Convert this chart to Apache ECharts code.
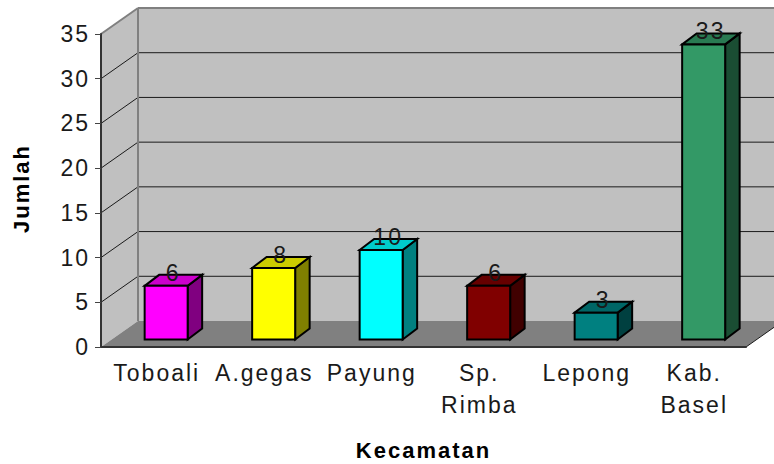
<!DOCTYPE html>
<html>
<head>
<meta charset="utf-8">
<style>
  html, body { margin: 0; padding: 0; background: #fff; }
  #chart { width: 774px; height: 464px; }
  #chart text { letter-spacing: 2px; }
</style>
<script src="https://cdn.jsdelivr.net/npm/echarts@6/dist/echarts.min.js"></script>
</head>
<body>
<div id="chart"></div>
<script>
const categories = ['Toboali', 'A.gegas', 'Payung', 'Sp.\nRimba', 'Lepong', 'Kab.\nBasel']
const jumlah = [6, 8, 10, 6, 3, 33]
const yTicks = [0, 5, 10, 15, 20, 25, 30, 35]
const frontColors = ['#ff00ff', '#ffff00', '#00ffff', '#800000', '#008080', '#339966']
const topColors = ['#cc00cc', '#cccc00', '#00cccc', '#660000', '#006666', '#297a52']
const sideColors = ['#800080', '#808000', '#008080', '#400000', '#004040', '#1a4d33']

// pixel offsets of the fake 3d projection
const wallDx = 37
const wallDy = -26
const barDx = 11.4
const barDy = -7.5
const depthDx = 14.5
const depthDy = -11
const barRatio = 0.4
const fontName = '"Liberation Sans", Arial, sans-serif'

const poly = (points, fill, stroke, lineWidth) => ({
  type: 'polygon',
  shape: { points },
  style: { fill, stroke: stroke || 'none', lineWidth: lineWidth || 0, lineJoin: 'miter' }
})
const line = (a, b, stroke, lineWidth) => ({
  type: 'line',
  shape: { x1: a[0], y1: a[1], x2: b[0], y2: b[1] },
  style: { stroke, lineWidth }
})
const shift = (p, dx, dy) => [p[0] + dx, p[1] + dy]

const renderWalls = (params, api) => {
  const c = params.coordSys
  const left = c.x
  const right = c.x + c.width
  const bottom = c.y + c.height
  const top = c.y
  const kids = [
    // back wall
    poly([[left + wallDx, top + wallDy], [right + wallDx, top + wallDy], [right + wallDx, bottom + wallDy], [left + wallDx, bottom + wallDy]], '#c0c0c0'),
    // side wall
    poly([[left, top], [left + wallDx, top + wallDy], [left + wallDx, bottom + wallDy], [left, bottom]], '#c0c0c0'),
    // floor
    poly([[left, bottom], [left + wallDx, bottom + wallDy], [right + wallDx, bottom + wallDy], [right, bottom]], '#808080')
  ]
  yTicks.forEach(t => {
    if (t === 0 || t === yTicks[yTicks.length - 1]) return
    const p = [left, api.coord([0, t])[1]]
    const back = shift(p, wallDx, wallDy)
    kids.push(line(p, back, '#1a1a1a', 1))
    kids.push(line(back, [right + wallDx, back[1]], '#1a1a1a', 1))
  })
  kids.push(line([left, top], [left + wallDx, top + wallDy], '#808080', 2))
  kids.push(line([left + wallDx, top + wallDy], [right + wallDx, top + wallDy], '#808080', 2))
  kids.push(line([left + wallDx, top + wallDy], [left + wallDx, bottom + wallDy], '#808080', 2))
  kids.push(line([right, bottom], [right + wallDx, bottom + wallDy], '#1a1a1a', 1))
  return { type: 'group', children: kids }
}

const renderBar = (params, api) => {
  const i = api.value(0)
  const base = api.coord([i, 0])
  const head = api.coord([i, api.value(1)])
  const half = api.size([1, 0])[0] * barRatio / 2
  const x0 = base[0] - half + barDx
  const x1 = base[0] + half + barDx
  const y0 = base[1] + barDy
  const y1 = head[1] + barDy
  return {
    type: 'group',
    children: [
      poly([[x1, y0], [x1 + depthDx, y0 + depthDy], [x1 + depthDx, y1 + depthDy], [x1, y1]], sideColors[i], '#000', 2),
      poly([[x0, y1], [x0 + depthDx, y1 + depthDy], [x1 + depthDx, y1 + depthDy], [x1, y1]], topColors[i], '#000', 2),
      poly([[x0, y0], [x1, y0], [x1, y1], [x0, y1]], frontColors[i], '#000', 2),
      {
        type: 'text',
        x: (x0 + x1) / 2 + 7,
        y: y1 - 13,
        style: {
          text: String(api.value(1)),
          fill: '#1a1a1a',
          font: '23px ' + fontName,
          align: 'center',
          verticalAlign: 'middle'
        }
      }
    ]
  }
}

const chart = echarts.init(document.getElementById('chart'), null, { renderer: 'svg' })
chart.setOption({
  animation: false,
  backgroundColor: '#fff',
  grid: { left: 101, right: 28, top: 34, bottom: 117, outerBoundsMode: 'none' },
  xAxis: {
    type: 'category',
    data: categories,
    z: 3,
    name: 'Kecamatan',
    nameLocation: 'middle',
    nameGap: 92,
    nameTextStyle: { fontFamily: fontName, fontSize: 22, fontWeight: 'bold', color: '#000' },
    axisLine: { lineStyle: { color: '#333', width: 2 } },
    axisTick: { length: 6, alignWithLabel: false, lineStyle: { color: '#444' } },
    axisLabel: { interval: 0, margin: 10, padding: [0, 0, 0, 4], fontFamily: fontName, fontSize: 23, lineHeight: 32, color: '#1a1a1a' },
    splitLine: { show: false }
  },
  yAxis: {
    type: 'value',
    min: 0,
    max: 35,
    interval: 5,
    z: 3,
    name: 'Jumlah',
    nameLocation: 'middle',
    nameGap: 69,
    nameTextStyle: { fontFamily: fontName, fontSize: 22, fontWeight: 'bold', color: '#000', padding: [0, 0, 0, 4] },
    axisLine: { show: true, lineStyle: { color: '#333', width: 2 } },
    axisTick: { show: true, length: 6, lineStyle: { color: '#444' } },
    axisLabel: { margin: 11, fontFamily: fontName, fontSize: 23, color: '#1a1a1a' },
    splitLine: { show: false }
  },
  series: [
    {
      type: 'custom',
      z: 1,
      silent: true,
      renderItem: renderWalls,
      data: [[0, 0]],
      encode: { x: 0, y: 1 }
    },
    {
      type: 'custom',
      z: 4,
      silent: true,
      renderItem: renderBar,
      data: jumlah.map((v, i) => [i, v]),
      encode: { x: 0, y: 1 }
    }
  ]
})
</script>
</body>
</html>
